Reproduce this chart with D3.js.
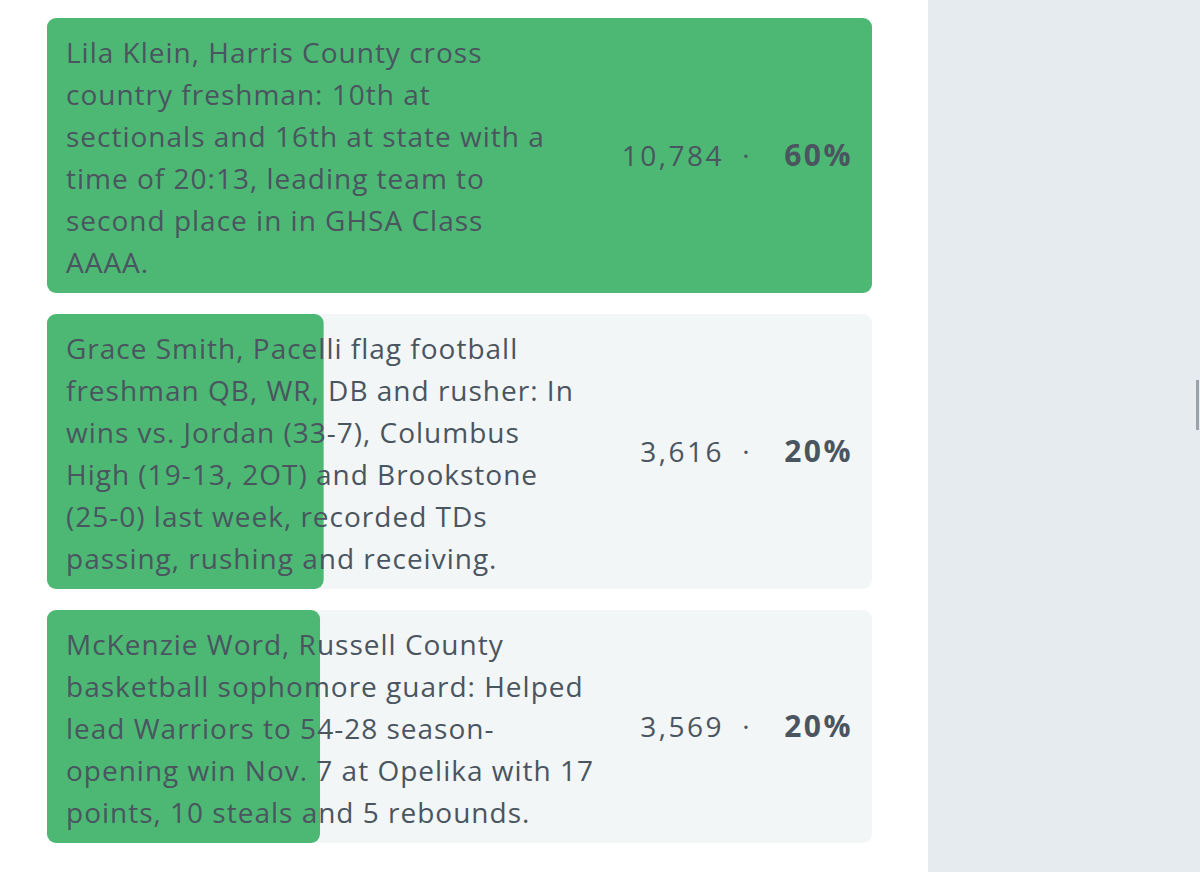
<!DOCTYPE html>
<html><head><meta charset="utf-8">
<script src="https://cdn.jsdelivr.net/npm/d3@7"></script>
<style>body{margin:0;background:#fff;overflow:hidden}</style>
</head><body>
<script>
var NAMES = [
  ["Lila Klein, Harris County cross", "country freshman: 10th at", "sectionals and 16th at state with a", "time of 20:13, leading team to", "second place in in GHSA Class", "AAAA."],
  ["Grace Smith, Pacelli flag football", "freshman QB, WR, DB and rusher: In", "wins vs. Jordan (33-7), Columbus", "High (19-13, 2OT) and Brookstone", "(25-0) last week, recorded TDs", "passing, rushing and receiving."],
  ["McKenzie Word, Russell County", "basketball sophomore guard: Helped", "lead Warriors to 54-28 season-", "opening win Nov. 7 at Opelika with 17", "points, 10 steals and 5 rebounds."]
];
var VOTES = [10784, 3616, 3569];
var PCTS = [60, 20, 20];

var LEFT = 47, RIGHT = 872, TOP = 18, LINE_H = 42, PAD = 23, GAP = 21;
var TEXT_COLOR = "#4a5560";
var FONT = "'Open Sans', sans-serif";

var svg = d3.select("body").append("svg").attr("width", 1200).attr("height", 872);
svg.append("rect").attr("x", 928).attr("width", 272).attr("height", 872).attr("fill", "#e5ebee");
svg.append("rect").attr("x", 1196).attr("y", 380).attr("width", 3).attr("height", 50).attr("fill", "#9aa3a9");

var x = d3.scaleLinear().domain([0, d3.max(VOTES)]).range([0, RIGHT - LEFT]);

var y = TOP;
NAMES.forEach(function(lines, i)
{
  var h = lines.length * LINE_H + PAD;
  var g = svg.append("g").attr("transform", "translate(0," + y + ")");
  g.append("rect").attr("x", LEFT).attr("width", RIGHT - LEFT).attr("height", h)
      .attr("rx", 9).attr("fill", "#f2f6f7");
  g.append("rect").attr("x", LEFT).attr("width", x(VOTES[i])).attr("height", h)
      .attr("rx", 9).attr("fill", "#4cb874");
  var t = g.append("text").attr("font-family", FONT).attr("font-size", 28)
      .attr("letter-spacing", 1).attr("fill", TEXT_COLOR);
  lines.forEach(function(l, j)
  {
    t.append("tspan").attr("x", 66).attr("y", 45 + j * LINE_H).text(l);
  });
  var cy = h / 2 + 10;
  g.append("text").attr("x", 724).attr("y", cy).attr("text-anchor", "end")
      .attr("font-family", FONT).attr("font-size", 28).attr("letter-spacing", 2.5).attr("fill", TEXT_COLOR)
      .text(d3.format(",")(VOTES[i]));
  g.append("text").attr("x", 746).attr("y", cy).attr("text-anchor", "middle")
      .attr("font-family", FONT).attr("font-size", 28).attr("fill", TEXT_COLOR).text("·");
  g.append("text").attr("x", 853).attr("y", cy).attr("text-anchor", "end")
      .attr("font-family", FONT).attr("font-size", 30).attr("letter-spacing", 2.5).attr("font-weight", "bold")
      .attr("fill", TEXT_COLOR).text(PCTS[i] + "%");
  y += h + GAP;
});
</script>
</body></html>
